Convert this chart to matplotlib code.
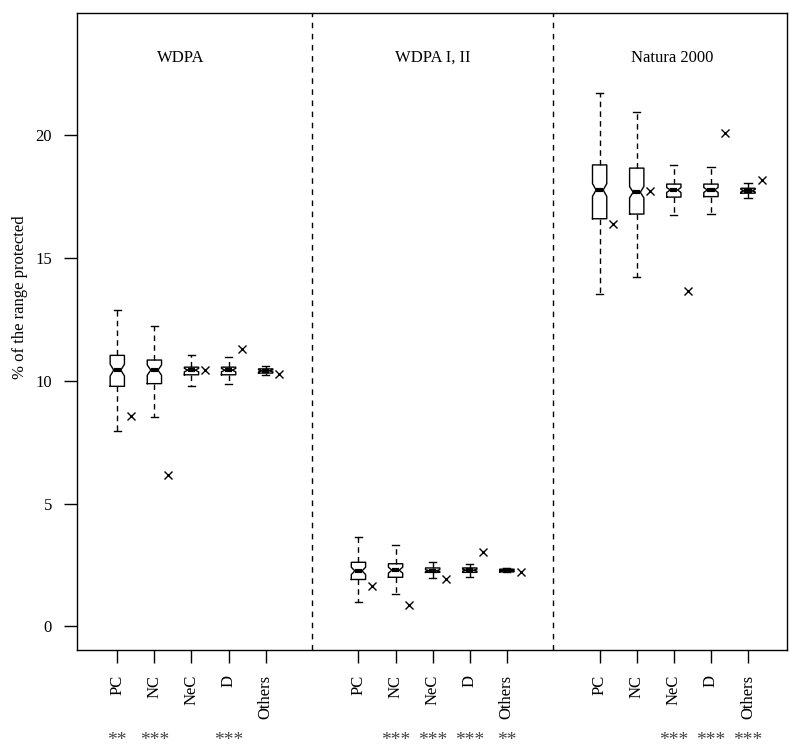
import matplotlib
matplotlib.use("Agg")
import matplotlib.pyplot as plt
from matplotlib.transforms import blended_transform_factory

# ---------------- data ----------------
categories = ["PC", "NC", "NeC", "D", "Others"]
groups = ["WDPA", "WDPA I, II", "Natura 2000"]

# five-number summaries per group (whisker low, Q1, median, Q3, whisker high)
wdpa_whislo = [7.97, 8.52, 9.80, 9.88, 10.22]
wdpa_q1     = [9.77, 9.88, 10.24, 10.24, 10.31]
wdpa_med    = [10.43, 10.43, 10.43, 10.43, 10.40]
wdpa_q3     = [11.03, 10.84, 10.55, 10.55, 10.48]
wdpa_whishi = [12.86, 12.24, 11.03, 10.96, 10.58]
wdpa_notch  = [0.24, 0.21, 0.07, 0.07, 0.04]
wdpa_cross  = [8.55, 6.18, 10.42, 11.29, 10.27]

wdpa12_whislo = [1.00, 1.33, 1.96, 2.02, 2.20]
wdpa12_q1     = [1.91, 2.00, 2.20, 2.20, 2.22]
wdpa12_med    = [2.26, 2.29, 2.27, 2.29, 2.28]
wdpa12_q3     = [2.61, 2.55, 2.38, 2.38, 2.33]
wdpa12_whishi = [3.62, 3.33, 2.61, 2.56, 2.36]
wdpa12_notch  = [0.15, 0.12, 0.04, 0.04, 0.02]
wdpa12_cross  = [1.64, 0.88, 1.91, 3.04, 2.21]

natura_whislo = [13.54, 14.22, 16.76, 16.80, 17.44]
natura_q1     = [16.59, 16.78, 17.47, 17.49, 17.63]
natura_med    = [17.76, 17.67, 17.76, 17.76, 17.73]
natura_q3     = [18.78, 18.65, 18.00, 18.00, 17.83]
natura_whishi = [21.69, 20.95, 18.77, 18.69, 18.06]
natura_notch  = [0.26, 0.23, 0.10, 0.10, 0.05]
natura_cross  = [16.38, 17.72, 13.65, 20.07, 18.17]

wdpa_stars   = ["**", "***", "", "***", ""]
wdpa12_stars = ["", "***", "***", "***", "**"]
natura_stars = ["", "", "***", "***", "***"]

group_data = [
    (wdpa_whislo, wdpa_q1, wdpa_med, wdpa_q3, wdpa_whishi, wdpa_notch, wdpa_cross, wdpa_stars),
    (wdpa12_whislo, wdpa12_q1, wdpa12_med, wdpa12_q3, wdpa12_whishi, wdpa12_notch, wdpa12_cross, wdpa12_stars),
    (natura_whislo, natura_q1, natura_med, natura_q3, natura_whishi, natura_notch, natura_cross, natura_stars),
]

# ---------------- layout ----------------
group_starts = [1.0, 7.5, 14.0]
dividers = [6.25, 12.75]
group_label_x = [2.71, 9.5, 15.95]

plt.rcParams['font.family'] = ['Liberation Serif', 'DejaVu Serif']
fig = plt.figure(figsize=(8, 7.54), dpi=100)
ax = fig.add_axes([0.09625, 0.1379, 0.8875, 0.8448])

box_w = 0.385
all_pos, all_labels = [], []
star_tr = blended_transform_factory(ax.transData, fig.transFigure)

for gi, (wl, q1, med, q3, wh, nh, cr, st) in enumerate(group_data):
    positions = [group_starts[gi] + i for i in range(len(categories))]
    stats = []
    for i in range(len(categories)):
        stats.append(dict(whislo=wl[i], q1=q1[i], med=med[i], q3=q3[i], whishi=wh[i],
                          cilo=med[i] - nh[i], cihi=med[i] + nh[i], fliers=[]))
    ax.bxp(stats, positions=positions, widths=box_w, shownotches=True,
           capwidths=box_w * 0.5,
           boxprops=dict(color='black', linewidth=1.0),
           whiskerprops=dict(color='black', linewidth=1.0, linestyle=(0, (4, 3))),
           capprops=dict(color='black', linewidth=1.0),
           medianprops=dict(color='black', linewidth=3.0, solid_capstyle='butt'),
           manage_ticks=False)
    ax.plot([p + 0.37 for p in positions], cr, linestyle='none', marker='x',
            color='black', markersize=6, markeredgewidth=1.0)
    for p, s in zip(positions, st):
        if s:
            ax.text(p, 0.018, s, transform=star_tr, ha='center', va='center',
                    fontsize=14, color='#444444')
    ax.text(group_label_x[gi], 23.15, groups[gi], ha='center', va='center', fontsize=12)
    all_pos += positions
    all_labels += categories

for d in dividers:
    ax.axvline(d, color='black', linewidth=1.0, linestyle=(0, (4, 4)))

ax.set_xlim(-0.086, 19.05)
ax.set_ylim(-0.96, 24.96)
ax.set_xticks(all_pos)
ax.set_xticklabels(all_labels, rotation=90, fontsize=12)
ax.set_yticks([0, 5, 10, 15, 20])
ax.set_yticklabels(["0", "5", "10", "15", "20"], fontsize=12)
ax.tick_params(axis='both', direction='out', length=9.5, width=1.0, pad=8.5)
for sp in ax.spines.values():
    sp.set_linewidth(1.0)

fig.text(0.0245, 0.606, "% of the range protected", rotation=90, ha='center', va='center', fontsize=12)

fig.savefig("out.png", dpi=100)
